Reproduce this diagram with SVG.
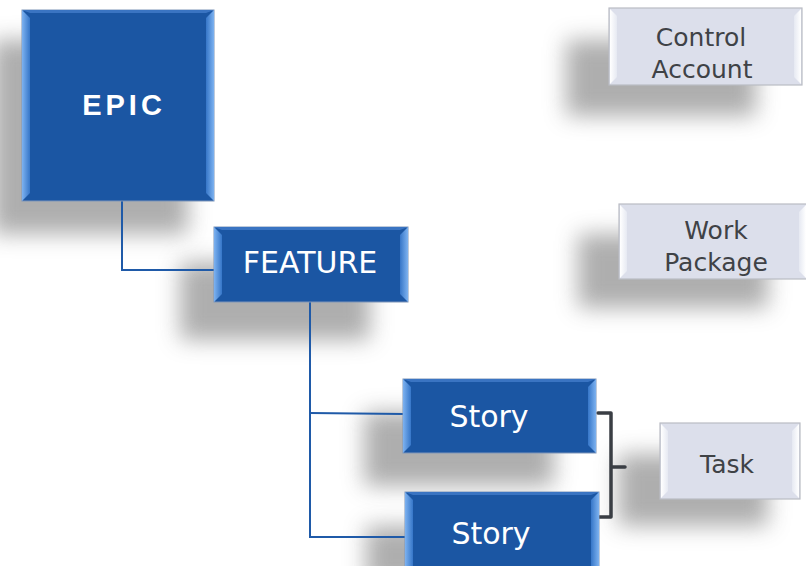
<svg xmlns="http://www.w3.org/2000/svg" width="806" height="566" viewBox="0 0 806 566">
  <defs>
    <filter id="soft" x="-40%" y="-40%" width="180%" height="180%">
      <feGaussianBlur stdDeviation="11"/>
    </filter>
    <linearGradient id="blueL" x1="0" y1="0" x2="1" y2="0">
      <stop offset="0" stop-color="#7db2f0"/>
      <stop offset="1" stop-color="#3676c8"/>
    </linearGradient>
    <linearGradient id="blueR" x1="1" y1="0" x2="0" y2="0">
      <stop offset="0" stop-color="#7db2f0"/>
      <stop offset="1" stop-color="#3676c8"/>
    </linearGradient>
    <linearGradient id="greyL" x1="0" y1="0" x2="1" y2="0">
      <stop offset="0" stop-color="#ffffff"/>
      <stop offset="1" stop-color="#e6e9f2"/>
    </linearGradient>
    <linearGradient id="greyR" x1="1" y1="0" x2="0" y2="0">
      <stop offset="0" stop-color="#ffffff"/>
      <stop offset="1" stop-color="#e6e9f2"/>
    </linearGradient>
  </defs>
  <style>
    .shadow { fill: #8f8f8f; opacity: 0.72; filter: url(#soft); }
    .blue { fill: #1b56a3; stroke: #7f95b8; stroke-width: 1; }
    .blue-l { fill: url(#blueL); }
    .blue-r { fill: url(#blueR); }
    .blue-t { fill: #3a74c2; }
    .grey { fill: #dcdfeb; stroke: #b9bcc4; stroke-width: 1.2; }
    .grey-l { fill: url(#greyL); }
    .grey-r { fill: url(#greyR); }
    .wt { fill: #ffffff; font-family: "DejaVu Sans", Verdana, sans-serif; font-size: 30px; text-anchor: middle; }
    .epic { fill: #ffffff; font-family: "Liberation Sans", Arial, sans-serif; font-size: 29px; font-weight: bold; letter-spacing: 4px; text-anchor: middle; }
    .gt { fill: #3f4246; font-family: "DejaVu Sans", Verdana, sans-serif; font-size: 25px; text-anchor: middle; }
    .link { fill: none; stroke: #1f5aa8; stroke-width: 2; }
    .brace { fill: none; stroke: #3a3e44; stroke-width: 3.5; stroke-linejoin: round; stroke-linecap: round; }
  </style>

  <!-- soft drop shadows, cast down and to the left -->
  <g id="shadows">
    <rect class="shadow" x="-8" y="40" width="196" height="194"/>
    <rect class="shadow" x="180" y="262" width="190" height="78"/>
    <rect class="shadow" x="364" y="412" width="190" height="74"/>
    <rect class="shadow" x="366" y="526" width="190" height="60"/>
    <rect class="shadow" x="566" y="40" width="190" height="76"/>
    <rect class="shadow" x="578" y="234" width="190" height="74"/>
    <rect class="shadow" x="618" y="454" width="150" height="72"/>
  </g>

  <!-- connectors -->
  <g id="connectors">
    <polyline class="link" points="122,201 122,270 214,270"/>
    <polyline class="link" points="310,302 310,537 405,537"/>
    <line class="link" x1="310" y1="413" x2="403" y2="414"/>
    <path class="brace" d="M598,413 H611 V517 H598 M611,467 H625"/>
  </g>

  <g id="epic">
    <rect class="blue" x="22" y="10" width="192" height="191"/>
    <polygon class="blue-t" points="22,10 214,10 206,13 30,13"/>
    <polygon class="blue-l" points="22,10 30,18 30,193 22,201"/>
    <polygon class="blue-r" points="214,10 206,18 206,193 214,201"/>
    <text class="epic" x="124" y="115">EPIC</text>
  </g>

  <g id="feature">
    <rect class="blue" x="214" y="227" width="194" height="75"/>
    <polygon class="blue-t" points="214,227 408,227 400,230 222,230"/>
    <polygon class="blue-l" points="214,227 222,235 222,294 214,302"/>
    <polygon class="blue-r" points="408,227 400,235 400,294 408,302"/>
    <text class="wt" x="310" y="273">FEATURE</text>
  </g>

  <g id="story-1">
    <rect class="blue" x="403" y="379" width="193" height="74"/>
    <polygon class="blue-t" points="403,379 596,379 588,382 411,382"/>
    <polygon class="blue-l" points="403,379 411,387 411,445 403,453"/>
    <polygon class="blue-r" points="596,379 588,387 588,445 596,453"/>
    <text class="wt" x="489" y="427">Story</text>
  </g>

  <g id="story-2">
    <rect class="blue" x="405" y="492" width="194" height="82"/>
    <polygon class="blue-t" points="405,492 599,492 591,495 413,495"/>
    <polygon class="blue-l" points="405,492 413,500 413,574 405,574"/>
    <polygon class="blue-r" points="599,492 591,500 591,574 599,574"/>
    <text class="wt" x="491" y="544">Story</text>
  </g>

  <g id="control-account">
    <rect class="grey" x="609" y="8" width="193" height="77"/>
    <polygon class="grey-l" points="610,9 617,16 617,77 610,84"/>
    <polygon class="grey-r" points="801,9 794,16 794,77 801,84"/>
    <text class="gt" x="701" y="46">Control</text>
    <text class="gt" x="702" y="78">Account</text>
  </g>

  <g id="work-package">
    <rect class="grey" x="619" y="204" width="190" height="75"/>
    <polygon class="grey-l" points="620,205 627,212 627,271 620,278"/>
    <polygon class="grey-r" points="806,205 799,212 799,271 806,278"/>
    <text class="gt" x="716" y="239">Work</text>
    <text class="gt" x="716" y="271">Package</text>
  </g>

  <g id="task">
    <rect class="grey" x="660" y="423" width="140" height="76"/>
    <polygon class="grey-l" points="661,424 668,431 668,491 661,498"/>
    <polygon class="grey-r" points="799,424 792,431 792,491 799,498"/>
    <text class="gt" x="727" y="473">Task</text>
  </g>
</svg>
